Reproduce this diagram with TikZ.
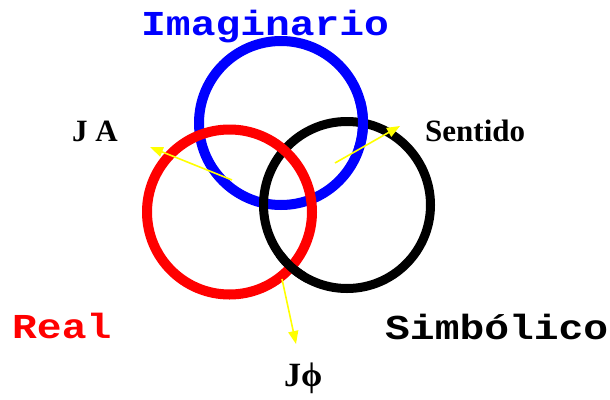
\documentclass[tikz,border=0pt]{standalone}
\usepackage{fontspec}
\setmainfont{Liberation Serif}
\newfontfamily\monobold{Liberation Mono}[BoldFont={* Bold}, FakeStretch=1.18]
\usetikzlibrary{arrows.meta}
\definecolor{pureblue}{RGB}{0,0,255}
\definecolor{purered}{RGB}{255,0,0}
\definecolor{pureyellow}{RGB}{255,255,0}
\tikzset{
  ring/.style={line width=#1},
  bigword/.style={inner sep=0pt, anchor=base west, font=\monobold\bfseries\fontsize{35}{35}\selectfont},
  smallword/.style={inner sep=0pt, anchor=base west, font=\bfseries\fontsize{31}{31}\selectfont},
  pointer/.style={pureyellow, line width=1.6pt, -{Triangle[length=13pt,width=10pt]}}
}
\begin{document}
\begin{tikzpicture}[x=1pt,y=-1pt]
\useasboundingbox (0,0) rectangle (610,399);
\coordinate (cb) at (281,123);
\coordinate (ck) at (347,205);
\coordinate (cr) at (229.5,212);
% rings
\draw[pureblue, ring=10pt] (cb) circle[radius=82];
\draw[black, ring=9pt] (ck) circle[radius=83.5];
\draw[purered, ring=10pt] (cr) circle[radius=82.5];
% interlacing: blue over black at top right, black over red at bottom
\begin{scope}
  \clip (348,100) rectangle (378,146);
  \draw[pureblue, ring=10pt] (cb) circle[radius=82];
\end{scope}
\begin{scope}
  \clip (276,252) rectangle (306,284);
  \draw[black, ring=9pt] (ck) circle[radius=83.5];
\end{scope}
% labels
\node[bigword, text=pureblue] (imag) at (141,35) {Imaginario};
\node[bigword, text=purered] (real) at (12,338) {Real};
\node[bigword, text=black] (simb) at (385,339) {Simbólico};
\node[smallword] (ja) at (72,141) {J A};
\node[smallword] (sent) at (425,141) {Sentido};
\node[smallword, font=\bfseries\fontsize{34}{34}\selectfont] (jphi) at (284,386) {J\char"03D5};
% arrows
\coordinate (ja0) at (232,180);
\coordinate (ja1) at (150,147);
\coordinate (se0) at (335,163);
\coordinate (se1) at (400,126);
\coordinate (jp0) at (282,279);
\coordinate (jp1) at (296,344);
\draw[pointer] (ja0) -- (ja1);
\draw[pointer] (se0) -- (se1);
\draw[pointer] (jp0) -- (jp1);
\end{tikzpicture}
\end{document}
